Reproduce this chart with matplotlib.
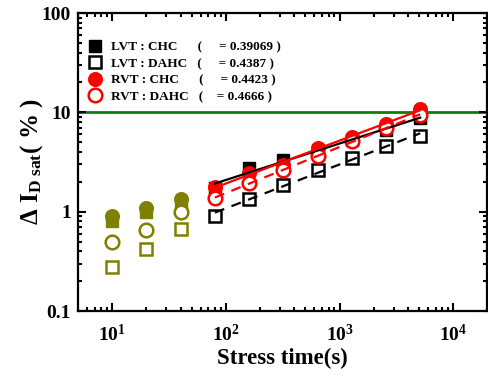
import matplotlib
matplotlib.use('Agg')
import matplotlib.pyplot as plt
import numpy as np

plt.rcParams['font.family'] = ['Liberation Serif', 'DejaVu Serif']
plt.rcParams['font.weight'] = 'bold'
plt.rcParams['mathtext.fontset'] = 'custom'
plt.rcParams['mathtext.rm'] = 'Liberation Serif:bold'
plt.rcParams['mathtext.bf'] = 'Liberation Serif:bold'
plt.rcParams['mathtext.it'] = 'Liberation Serif:bold:italic'

# datos: tiempos cortos (oliva) y tiempos del ajuste
t_early = [10, 20, 40]
lvt_chc_early = [0.81, 1.0, 1.18]
lvt_dahc_early = [0.28, 0.42, 0.67]
rvt_chc_early = [0.91, 1.08, 1.35]
rvt_dahc_early = [0.49, 0.66, 1.0]

t_fit = [80, 160, 320, 640, 1280, 2560, 5120]
lvt_chc = [1.72, 2.75, 3.3, 4.2, 5.3, 6.6, 8.8]
lvt_dahc = [0.91, 1.34, 1.87, 2.6, 3.47, 4.55, 5.73]
rvt_chc = [1.76, 2.45, 2.97, 4.38, 5.65, 7.7, 10.8]
rvt_dahc = [1.38, 1.95, 2.6, 3.6, 5.1, 6.96, 9.5]

labels = ['LVT : CHC      (     = 0.39069 )',
          'LVT : DAHC   (     = 0.4387 )',
          'RVT : CHC      (     = 0.4423 )',
          'RVT : DAHC   (    = 0.4666 )']

x_ticks = [10, 100, 1000, 10000]
x_ticklabels = [r'$\mathbf{10^{1}}$', r'$\mathbf{10^{2}}$',
                r'$\mathbf{10^{3}}$', r'$\mathbf{10^{4}}$']
y_ticks = [0.1, 1, 10, 100]
y_ticklabels = ['0.1', '1', '10', '100']
limit = 10

olive = '#808000'
ms = 9.8
mew = 1.8

fig = plt.figure(figsize=(4.89, 3.78), dpi=100)
ax = fig.add_axes([78/489, 67/378, 409.5/489, 298/378])

ax.axhline(limit, color='#0a800a', lw=2, zorder=1)

# puntos tempranos
ax.plot(t_early, lvt_chc_early, ls='none', marker='s', ms=ms - 0.5, color=olive, zorder=3)
ax.plot(t_early, rvt_chc_early, ls='none', marker='o', ms=ms, color=olive, zorder=3)
ax.plot(t_early, lvt_dahc_early, ls='none', marker='s', ms=ms - 0.5, mfc='white',
        mec=olive, mew=mew, zorder=3)
ax.plot(t_early, rvt_dahc_early, ls='none', marker='o', ms=ms, mfc='white',
        mec=olive, mew=mew, zorder=3)

# puntos del ajuste
h1, = ax.plot(t_fit, lvt_chc, ls='none', marker='s', ms=ms - 0.5, color='black', zorder=3)
h2, = ax.plot(t_fit, lvt_dahc, ls='none', marker='s', ms=ms - 0.5, mfc='white',
              mec='black', mew=mew, zorder=3)
h3, = ax.plot(t_fit, rvt_chc, ls='none', marker='o', ms=ms, color='red', zorder=4)
h4, = ax.plot(t_fit, rvt_dahc, ls='none', marker='o', ms=ms, mfc='white',
              mec='red', mew=mew, zorder=4)

# rectas de ajuste (ley de potencia)
ends = np.array([t_fit[0], t_fit[-1]])
for ys, col, ls in [(lvt_chc, 'black', '-'), (lvt_dahc, 'black', (0, (4.5, 3.5))),
                    (rvt_chc, 'red', '-'), (rvt_dahc, 'red', (0, (4.5, 3.5)))]:
    p = np.polyfit(np.log10(t_fit), np.log10(ys), 1)
    ax.plot(ends, 10 ** np.polyval(p, np.log10(ends)), color=col, ls=ls, lw=1.6, zorder=5)

ax.set_xscale('log')
ax.set_yscale('log')
ax.set_xlim(5, 2e4)
ax.set_ylim(0.1, 100)
ax.set_xticks(x_ticks)
ax.set_xticklabels(x_ticklabels, fontsize=14)
ax.set_yticks(y_ticks)
ax.set_yticklabels(y_ticklabels, fontsize=14, fontweight='bold')
ax.tick_params(which='both', direction='in', top=True, right=True, width=1.5)
ax.tick_params(which='major', length=6)
ax.tick_params(which='minor', length=3)
ax.tick_params(axis='x', pad=9)
ax.tick_params(axis='y', pad=5)
for s in ax.spines.values():
    s.set_linewidth(1.6)

ax.set_xlabel('Stress time(s)', fontsize=16.5, fontweight='bold', labelpad=2)
ax.set_ylabel(r'$\mathbf{\Delta\ I_{D\ sat}(\ \%\ )}$', fontsize=18, labelpad=-2)

ax.legend([h1, h2, h3, h4], labels, loc='upper left', bbox_to_anchor=(0.027, 0.905),
          frameon=False, numpoints=1, handlelength=0.9,
          handletextpad=0.75, labelspacing=0.32, borderpad=0, borderaxespad=0,
          prop={'weight': 'bold', 'size': 9.5})

fig.savefig('out.png', dpi=100)
